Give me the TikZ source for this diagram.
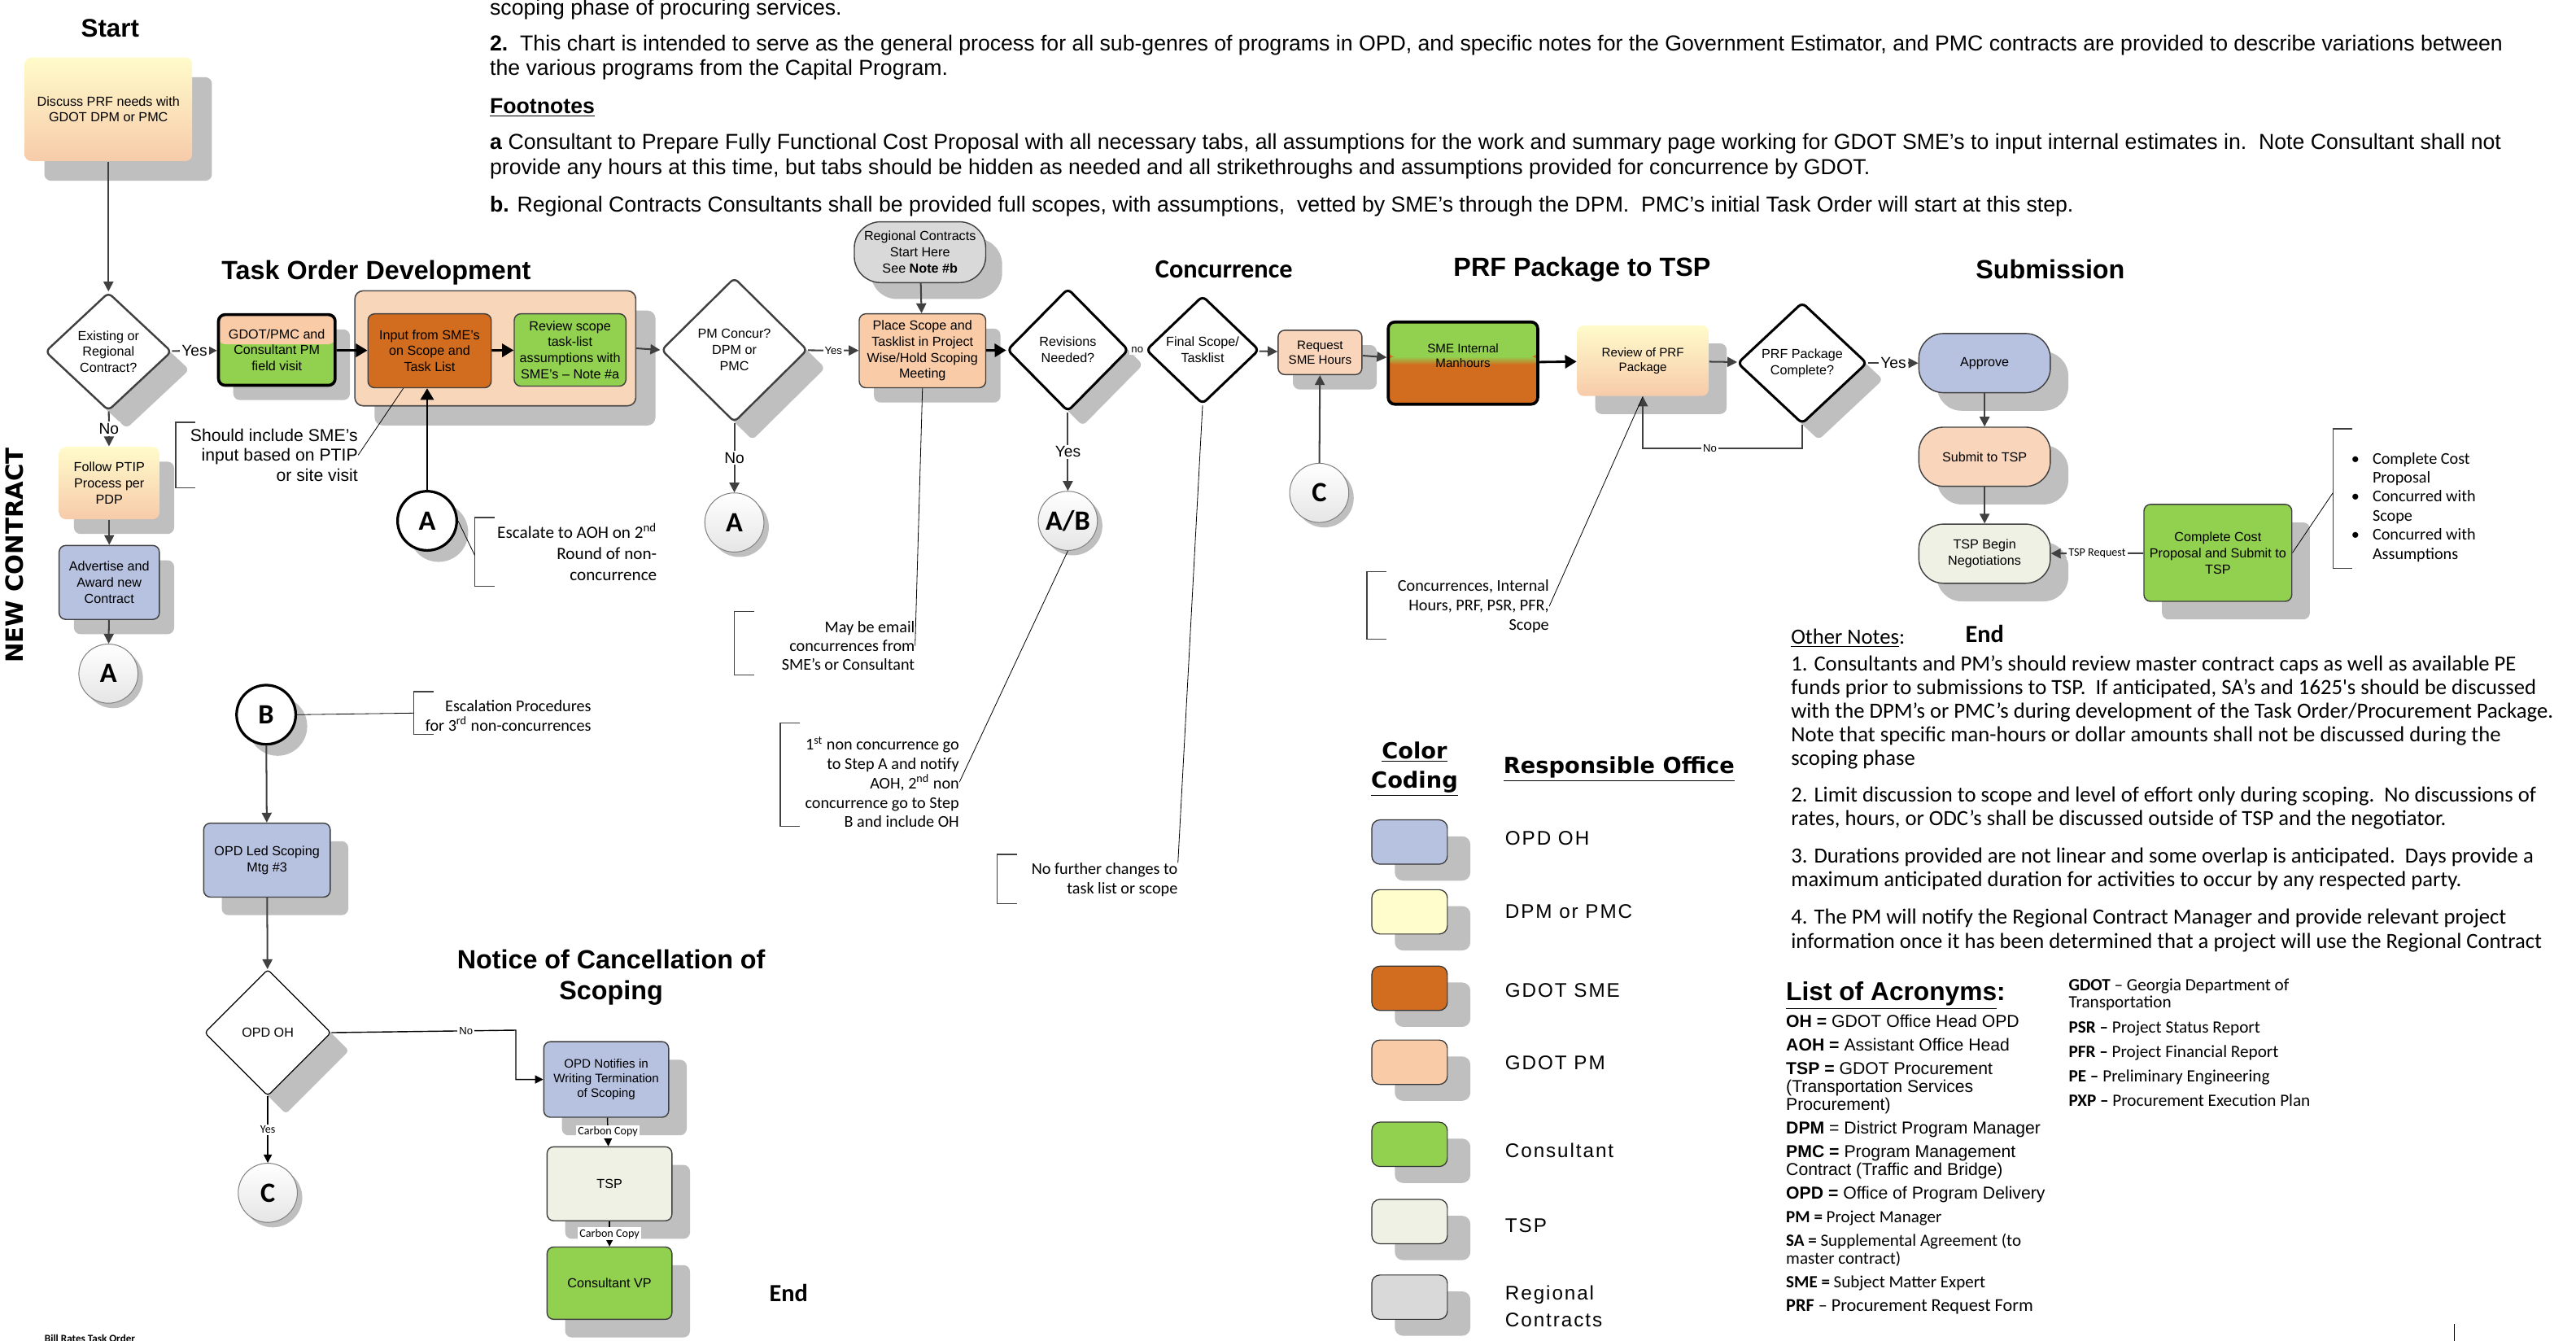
\documentclass[tikz,border=0pt]{standalone}
\usepackage{fontspec}
\setmainfont{Liberation Sans}
\newfontfamily\calfont{Carlito}
\newfontfamily\widefont{DejaVu Sans}
\newfontfamily\spacedfont[LetterSpace=8]{Liberation Sans}
\usetikzlibrary{shapes.geometric,arrows.meta,shadows,positioning,calc}

\definecolor{opdoh}{HTML}{B7C1E0}
\definecolor{dpmyel}{HTML}{FFFDCC}
\definecolor{smeorg}{HTML}{D26C1E}
\definecolor{pmpeach}{HTML}{F9CBA6}
\definecolor{lightpeach}{HTML}{F8D5BB}
\definecolor{consgrn}{HTML}{92D050}
\definecolor{tspcol}{HTML}{EEF1E3}
\definecolor{regcol}{HTML}{D9D9D9}
\definecolor{shadowgray}{HTML}{BFBFBF}
\definecolor{groupfill}{HTML}{F8D6BA}
\definecolor{gradtop}{HTML}{FFFBCB}
\definecolor{gradbot}{HTML}{F7CBAA}
\definecolor{linegray}{HTML}{404040}

\newcommand{\nodefont}{\fontsize{8}{9.8}\selectfont}
\newcommand{\smallfont}{\fontsize{7.5}{9}\selectfont}
\newcommand{\lblfont}{\fontsize{6.5}{7}\selectfont}
\newcommand{\annofont}{\calfont\fontsize{10}{11.8}\selectfont}
\newcommand{\jumpfont}{\calfont\bfseries\fontsize{17}{17}\selectfont}
\newcommand{\headfont}{\bfseries\fontsize{16}{19}\selectfont}
\newcommand{\topfont}{\fontsize{13.2}{15}\selectfont}
\newcommand{\notefont}{\calfont\fontsize{13.2}{14.4}\selectfont}
\newcommand{\legfont}{\spacedfont\fontsize{12}{16}\selectfont}
\newcommand{\leghead}{\widefont\bfseries\fontsize{13.5}{18}\selectfont}
\newcommand{\brk}[3]{\draw[linegray, line width=0.6pt] (#1+12,#2) -- (#1,#2) -- (#1,#3) -- (#1+12,#3);}

\tikzset{
  shad/.style={drop shadow={shadow xshift=#1, shadow yshift=-#1, fill=shadowgray, opacity=1}},
  shad/.default=9pt,
  procbox/.style={rectangle, rounded corners=4pt, draw=linegray, line width=0.7pt,
    align=center, font=\nodefont, inner sep=1pt},
  gradbox/.style={procbox, draw=none, top color=gradtop, bottom color=gradbot},
  opdbox/.style={procbox, fill=opdoh},
  pmbox/.style={procbox, fill=pmpeach},
  smebox/.style={procbox, fill=smeorg},
  consbox/.style={procbox, fill=consgrn},
  tspbox/.style={procbox, fill=tspcol},
  stadium/.style={procbox, rounded corners=15pt},
  groupbox/.style={rectangle, rounded corners=5pt, draw=black!70, line width=0.8pt,
    fill=groupfill},
  decision/.style={diamond, draw=linegray, line width=1.2pt, fill=white,
    rounded corners=3pt, align=center, font=\nodefont, inner sep=0pt},
  jump/.style={circle, draw=gray, line width=0.5pt, minimum size=36pt, inner sep=0pt,
    top color=white, bottom color=black!10, font=\jumpfont, shad=3pt},
  jumpbold/.style={circle, draw=black, line width=1.6pt, fill=white, minimum size=36pt,
    inner sep=0pt, font=\jumpfont, shad=7pt},
  flow/.style={draw=linegray, line width=1pt, -{Triangle[length=6pt,width=6pt]}},
  bigflow/.style={draw=black, line width=1.4pt, -{Triangle[length=7pt,width=8pt]}},
  thinflow/.style={draw=black, line width=0.7pt, -{Triangle[length=5pt,width=5pt]}},
  lbl/.style={fill=white, inner sep=1pt, font=\lblfont},
  anno/.style={align=right, inner sep=0pt, font=\annofont},
  annoline/.style={draw=black, line width=0.4pt},
  heading/.style={font=\headfont, inner sep=0pt},
  swatch/.style={rectangle, rounded corners=5pt, draw=black!80, line width=0.6pt,
    minimum width=46pt, minimum height=27pt,
    drop shadow={shadow xshift=14pt, shadow yshift=-10pt, fill=shadowgray, opacity=1}},
  legtext/.style={anchor=west, align=left, font=\legfont, inner sep=0pt},
}

\begin{document}
\begin{tikzpicture}[x=1pt,y=-1pt]
  \useasboundingbox (0,0) rectangle (1568,816);

  %% notes along the top (base = last line)
  \node[anchor=base west, font=\topfont, inner sep=0pt] (intro) at (298,9)
       {scoping phase of procuring services.};
  \node[anchor=base west, font=\topfont, align=left, inner sep=0pt] (note2) at (298,46)
       {\textbf{2.}\ \ This chart is intended to serve as the general process for all sub-genres of programs in OPD, and specific notes for the Government Estimator, and PMC contracts are provided to describe variations between\\
        the various programs from the Capital Program.};
  \node[anchor=base west, font=\topfont, inner sep=0pt] (foot) at (298,69)
       {\textbf{\underline{Footnotes}}};
  \node[anchor=base west, font=\topfont, align=left, inner sep=0pt] (fnotea) at (298,106)
       {\textbf{a} Consultant to Prepare Fully Functional Cost Proposal with all necessary tabs, all assumptions for the work and summary page working for GDOT SME’s to input internal estimates in.\ \ Note Consultant shall not\\
        provide any hours at this time, but tabs should be hidden as needed and all strikethroughs and assumptions provided for concurrence by GDOT.};
  \node[anchor=base west, font=\topfont, inner sep=0pt] (fnoteb) at (298,129)
       {\textbf{b.} Regional Contracts Consultants shall be provided full scopes, with assumptions,\ \ vetted by SME’s through the DPM.\ \ PMC’s initial Task Order will start at this step.};

  %% headings
  \node[heading, font=\bfseries\fontsize{15.5}{18}\selectfont] (hstart) at (67,17) {Start};
  \node[heading] (htod) at (229,166) {Task Order Development};
  \node[heading, font=\calfont\bfseries\fontsize{16}{19}\selectfont] (hconc) at (745,164) {Concurrence};
  \node[heading] (hprf) at (963,164) {PRF Package to TSP};
  \node[heading] (hsub) at (1248,164) {Submission};
  \node[heading, align=center] (hnot) at (372,595) {Notice of Cancellation of\\Scoping};
  \node[heading, font=\calfont\bfseries\fontsize{15}{18}\selectfont] (hend1) at (1208,386) {End};
  \node[heading, font=\calfont\bfseries\fontsize{15}{18}\selectfont] (hend2) at (480,787) {End};
  \node[rotate=90, font=\widefont\bfseries\fontsize{14.5}{16}\selectfont, inner sep=0pt] (newc) at (9,338) {NEW CONTRACT};

  %% new contract path
  \node[gradbox, minimum width=102pt, minimum height=63pt, shad=12pt] (start) at (66,66.5)
       {Discuss PRF needs with\\GDOT DPM or PMC};
  \node[decision, minimum width=77pt, minimum height=72pt, shad=11pt] (exist) at (66,214)
       {Existing or\\Regional\\Contract?};
  \node[gradbox, minimum width=61pt, minimum height=44pt, shad] (ptip) at (66.5,294)
       {Follow PTIP\\Process per\\PDP};
  \node[opdbox, minimum width=61pt, minimum height=45pt, shad] (adv) at (66.5,354.5)
       {Advertise and\\Award new\\Contract};
  \node[jump] (a1) at (66,410) {A};

  %% task order development
  \node[procbox, line width=1.8pt, draw=black, fill=consgrn, minimum width=71pt, minimum height=43pt, shad,
        path picture={\fill[pmpeach] (path picture bounding box.north west)
                        rectangle ([yshift=3.5pt]path picture bounding box.east);}] (gdot) at (168.5,213)
       {GDOT/PMC and\\Consultant PM\\field visit};
  \node[groupbox, minimum width=171pt, minimum height=70pt, shad=12pt] (tod) at (301.5,212) {};
  \node[smebox, minimum width=75pt, minimum height=45pt] (input) at (261.5,213.5)
       {Input from SME’s\\on Scope and\\Task List};
  \node[consbox, minimum width=68pt, minimum height=44pt] (review) at (347,213)
       {Review scope\\task-list\\assumptions with\\SME’s – Note \#a};
  \node[jumpbold] (ta) at (260,317) {A};

  %% concurrence
  \node[decision, minimum width=89pt, minimum height=88pt, shad=11pt] (pmc) at (447,213)
       {PM Concur?\\DPM or\\PMC};
  \node[jump] (a2) at (447,318) {A};
  \node[stadium, fill=regcol, minimum width=80pt, minimum height=37pt, rounded corners=16pt, shad=10pt] (regional) at (560,153.5)
       {Regional Contracts\\Start Here\\See \textbf{Note \#b}};
  \node[pmbox, minimum width=77pt, minimum height=45pt, shad] (place) at (561.5,213.5)
       {Place Scope and\\Tasklist in Project\\Wise/Hold Scoping\\Meeting};
  \node[decision, line width=1.5pt, draw=black, minimum width=74pt, minimum height=75pt, shad] (rev) at (650,213)
       {Revisions\\Needed?};
  \node[jump] (ab) at (650,317) {A/B};
  \node[decision, line width=1.5pt, draw=black, minimum width=69pt, minimum height=66pt] (fin) at (732,213)
       {Final Scope/\\Tasklist};
  \node[procbox, fill=lightpeach, font=\smallfont, minimum width=51pt, minimum height=27pt, shad] (req) at (803.5,214.5)
       {Request\\SME Hours};
  \node[jump] (c1) at (803,300) {C};

  %% prf package to tsp
  \node[procbox, line width=1.8pt, draw=black, fill=smeorg, font=\smallfont, minimum width=91pt, minimum height=50pt,
        path picture={\fill[consgrn] (path picture bounding box.north west)
                        rectangle ([yshift=4pt]path picture bounding box.east);
                      \shade[top color=consgrn, bottom color=smeorg]
                        ([yshift=4pt]path picture bounding box.west)
                        rectangle ([yshift=-1pt]path picture bounding box.east);}] (sme) at (890.5,221)
       {SME Internal\\Manhours\\ \mbox{}};
  \node[gradbox, font=\smallfont, minimum width=80pt, minimum height=43pt, shad=11pt] (rprf) at (1000,219.5)
       {Review of PRF\\Package};
  \node[decision, line width=1.5pt, draw=black, minimum width=79pt, minimum height=74pt, shad=10pt] (prfc) at (1097,221)
       {PRF Package\\Complete?};
  \coordinate (noloop) at (1097,273);

  %% submission
  \node[stadium, fill=opdoh, minimum width=80pt, minimum height=36pt, shad=11pt] (approve) at (1208,221) {Approve};
  \node[stadium, fill=lightpeach, minimum width=80pt, minimum height=36pt, shad=11pt] (submit) at (1208,278) {Submit to TSP};
  \node[stadium, fill=tspcol, minimum width=80pt, minimum height=36pt, shad=11pt] (tspneg) at (1208,337) {TSP Begin\\Negotiations};
  \node[consbox, minimum width=90pt, minimum height=59pt, shad=11pt] (ccp) at (1350,336.5)
       {Complete Cost\\Proposal and Submit to\\TSP};

  %% escalation and cancellation
  \node[jumpbold] (tb) at (162,435) {B};
  \node[opdbox, minimum width=77pt, minimum height=45pt, shad=11pt] (oplead) at (162.5,523.5)
       {OPD Led Scoping\\Mtg \#3};
  \node[decision, line width=0.6pt, draw=black, rounded corners=2pt, minimum width=77pt, minimum height=77pt, shad=11pt] (opdoh) at (163,628.5)
       {OPD OH};
  \coordinate (nobend) at (314,627);
  \node[jump] (c2) at (163,726) {C};
  \node[opdbox, font=\smallfont, minimum width=76pt, minimum height=46pt, shad=11pt] (opn) at (369,657)
       {OPD Notifies in\\Writing Termination\\of Scoping};
  \node[tspbox, minimum width=76pt, minimum height=45pt, shad=11pt] (tspb) at (371,720.5) {TSP};
  \node[consbox, minimum width=76pt, minimum height=44pt, shad=11pt] (cvp) at (371,781) {Consultant VP};

  %% connectors
  \draw[flow] (start) -- (exist);
  \draw[flow] (exist) -- node[lbl, font=\fontsize{9.5}{10}\selectfont]{Yes} (gdot);
  \draw[flow] (exist) -- node[lbl, font=\fontsize{9.5}{10}\selectfont]{No} (ptip);
  \draw[flow] (ptip) -- (adv);
  \draw[flow] (adv) -- (a1);
  \draw[bigflow] (gdot) -- (input);
  \draw[bigflow] (input) -- (review);
  \draw[flow] (tod.east) -- (pmc.west);
  \draw[bigflow] (ta.north) -- (ta.north |- input.south);
  \draw[flow] (pmc) -- node[lbl, font=\fontsize{9.5}{10}\selectfont]{No} (a2);
  \draw[flow] (pmc) -- node[lbl]{Yes} (place);
  \draw[flow] (regional) -- (place);
  \draw[bigflow] (place) -- (rev);
  \draw[flow] (rev) -- node[lbl]{no} (fin);
  \draw[flow] (rev) -- node[lbl, font=\fontsize{9.5}{10}\selectfont]{Yes} (ab);
  \draw[flow] (fin) -- (req);
  \draw[flow] (c1) -- (req);
  \draw[flow] (req) -- (sme);
  \draw[bigflow] (sme) -- (rprf);
  \draw[flow] (rprf) -- (prfc);
  \draw[flow] (prfc) -- node[lbl, font=\fontsize{9.5}{10}\selectfont]{Yes} (approve);
  \draw[flow] (prfc.south) -- (noloop) -| node[lbl, pos=0.29]{No} (rprf.south);
  \draw[flow] (approve) -- (submit);
  \draw[flow] (submit) -- (tspneg);
  \draw[flow] (ccp) -- node[lbl, font=\calfont\fontsize{7}{8}\selectfont]{TSP Request} (tspneg);
  \draw[flow] (tb) -- (oplead);
  \draw[flow] (oplead) -- (opdoh);
  \draw[thinflow] (opdoh.east) -- node[lbl, pos=0.73]{No} (nobend) |- (opn.west);
  \draw[thinflow] (opdoh) -- node[lbl, font=\calfont\fontsize{7}{8}\selectfont]{Yes} (c2);
  \draw[thinflow] (opn) -- node[lbl, font=\calfont\fontsize{7}{8}\selectfont]{Carbon Copy} (tspb);
  \draw[thinflow] (tspb) -- node[lbl, font=\calfont\fontsize{7}{8}\selectfont]{Carbon Copy} (cvp);

  %% call-out notes
  \node[anno, font=\fontsize{10.5}{12}\selectfont, anchor=east] (smenote) at (218,277)
       {Should include SME’s\\input based on PTIP\\or site visit};
  \brk{107}{257}{297}
  \draw[annoline] (input.235) -- (smenote.east);

  \node[anno, font=\calfont\fontsize{10.5}{13}\selectfont, anchor=east] (esc) at (400,336)
       {Escalate to AOH on 2\textsuperscript{nd}\\Round of non-\\concurrence};
  \brk{289}{315}{357}
  \coordinate (escb) at (289,338);
  \draw[annoline] (ta.east) -- (escb);

  \node[anno, anchor=east, font=\calfont\fontsize{10}{11.5}\selectfont] (email) at (557,393)
       {May be email\\concurrences from\\SME’s or Consultant};
  \brk{447}{372}{411}
  \draw[annoline] (place.south) -- (email.east);

  \node[anno, anchor=east] (firstnc) at (584,476)
       {1\textsuperscript{st} non concurrence go\\to Step A and notify\\AOH, 2\textsuperscript{nd} non\\concurrence go to Step\\B and include OH};
  \brk{475}{440}{503}
  \draw[annoline] (ab.south) -- (firstnc.east);

  \node[anno, anchor=east] (nofurther) at (717,535.5)
       {No further changes to\\task list or scope};
  \brk{607}{520}{550}
  \draw[annoline] (fin.south) -- (nofurther.north east);

  \node[anno, anchor=east] (concur) at (943,369)
       {Concurrences, Internal\\Hours, PRF, PSR, PFR,\\Scope};
  \brk{832}{348}{389}
  \draw[annoline] (rprf.south) -- (concur.east);

  \node[anno, anchor=east] (escal) at (360,435.5)
       {Escalation Procedures\\for 3\textsuperscript{rd} non-concurrences};
  \brk{252}{421}{447}
  \coordinate (escalb) at (252,434);
  \draw[annoline] (tb.east) -- (escalb);

  \node[anno, anchor=west, align=left, font=\calfont\fontsize{10}{11.6}\selectfont] (bullets) at (1431,309)
       {\begin{tabular}{@{}l@{\hspace{8pt}}l@{}}
        \textbullet & Complete Cost\\ & Proposal\\
        \textbullet & Concurred with\\ & Scope\\
        \textbullet & Concurred with\\ & Assumptions
        \end{tabular}};
  \brk{1420}{261}{346}
  \coordinate (bulb) at (1420,300);
  \draw[annoline] (ccp.east) -- (bulb);

  %% other notes (base = last line)
  \node[anchor=base west, font=\notefont, inner sep=0pt] (other) at (1090,392) {\underline{Other Notes}:};
  \node[anchor=base west, font=\notefont, align=left, inner sep=0pt] (onote1) at (1090,466)
       {1. Consultants and PM’s should review master contract caps as well as available PE\\
        funds prior to submissions to TSP.\ \ If anticipated, SA’s and 1625's should be discussed\\
        with the DPM’s or PMC’s during development of the Task Order/Procurement Package.\\
        Note that specific man-hours or dollar amounts shall not be discussed during the\\
        scoping phase};
  \node[anchor=base west, font=\notefont, align=left, inner sep=0pt] (onote2) at (1090,502.5)
       {2. Limit discussion to scope and level of effort only during scoping.\ \ No discussions of\\
        rates, hours, or ODC’s shall be discussed outside of TSP and the negotiator.};
  \node[anchor=base west, font=\notefont, align=left, inner sep=0pt] (onote3) at (1090,539.5)
       {3. Durations provided are not linear and some overlap is anticipated.\ \ Days provide a\\
        maximum anticipated duration for activities to occur by any respected party.};
  \node[anchor=base west, font=\notefont, align=left, inner sep=0pt] (onote4) at (1090,577)
       {4. The PM will notify the Regional Contract Manager and provide relevant project\\
        information once it has been determined that a project will use the Regional Contract};

  %% colour legend
  \node[font=\leghead, align=center, inner sep=0pt] (lgcolor) at (861,468)
       {\underline{Color}\\\underline{Coding}};
  \node[font=\leghead, inner sep=0pt] (lgoffice) at (985.5,468) {\underline{Responsible Office}};
  \foreach \col/\yy/\ly/\lab in {opdoh/512.5/510/OPD OH, dpmyel/555/555/DPM or PMC,
      smeorg/601.5/603/GDOT SME, pmpeach/646.5/647/GDOT PM, consgrn/696.5/700/Consultant,
      tspcol/743.5/746/TSP, regcol/789.5/795/Regional\\Contracts} {
    \node[swatch, fill=\col] (sw-\col) at (858,\yy) {};
    \node[legtext] (lg-\col) at (916,\ly) {\lab};
  }

  %% acronyms (base = last line)
  \node[anchor=base west, font=\bfseries\fontsize{15.7}{18}\selectfont, inner sep=0pt] (acrohead) at (1087,609)
       {\underline{List of Acronyms}:};
  \node[anchor=base west, align=left, inner sep=0pt, font=\fontsize{10.5}{11}\selectfont] (acroleft) at (1087,798)
       {\textbf{OH =} GDOT Office Head OPD\\[3.3pt]
        \textbf{AOH =} Assistant Office Head\\[3.3pt]
        \textbf{TSP =} GDOT Procurement\\(Transportation Services\\Procurement)\\[3.3pt]
        \textbf{DPM} = District Program Manager\\[3.3pt]
        \textbf{PMC =} Program Management\\Contract (Traffic and Bridge)\\[3.3pt]
        \textbf{OPD =} Office of Program Delivery\\[3.3pt]
        {\calfont\fontsize{10.4}{11}\selectfont \textbf{PM =} Project Manager}\\[3.3pt]
        {\calfont\fontsize{10.4}{11}\selectfont \textbf{SA =} Supplemental Agreement (to}\\
        {\calfont\fontsize{10.4}{11}\selectfont master contract)}\\[3.3pt]
        {\calfont\fontsize{10.4}{11}\selectfont \textbf{SME =} Subject Matter Expert}\\[3.3pt]
        {\calfont\fontsize{11}{11}\selectfont \textbf{PRF} – Procurement Request Form}};
  \node[anchor=base west, align=left, inner sep=0pt, font=\calfont\fontsize{10.5}{10.5}\selectfont] (acroright) at (1259,673.5)
       {\textbf{GDOT} – Georgia Department of\\Transportation\\[4.5pt]
        \textbf{PSR –} Project Status Report\\[4.5pt]
        \textbf{PFR –} Project Financial Report\\[4.5pt]
        \textbf{PE –} Preliminary Engineering\\[4.5pt]
        \textbf{PXP –} Procurement Execution Plan};

  \node[anchor=base west, font=\calfont\bfseries\fontsize{6.5}{7}\selectfont, inner sep=0pt] (bill) at (27,817)
       {Bill Rates Task Order};
  \draw[black, line width=0.6pt] (1494,806) -- (1494,816);
\end{tikzpicture}
\end{document}
